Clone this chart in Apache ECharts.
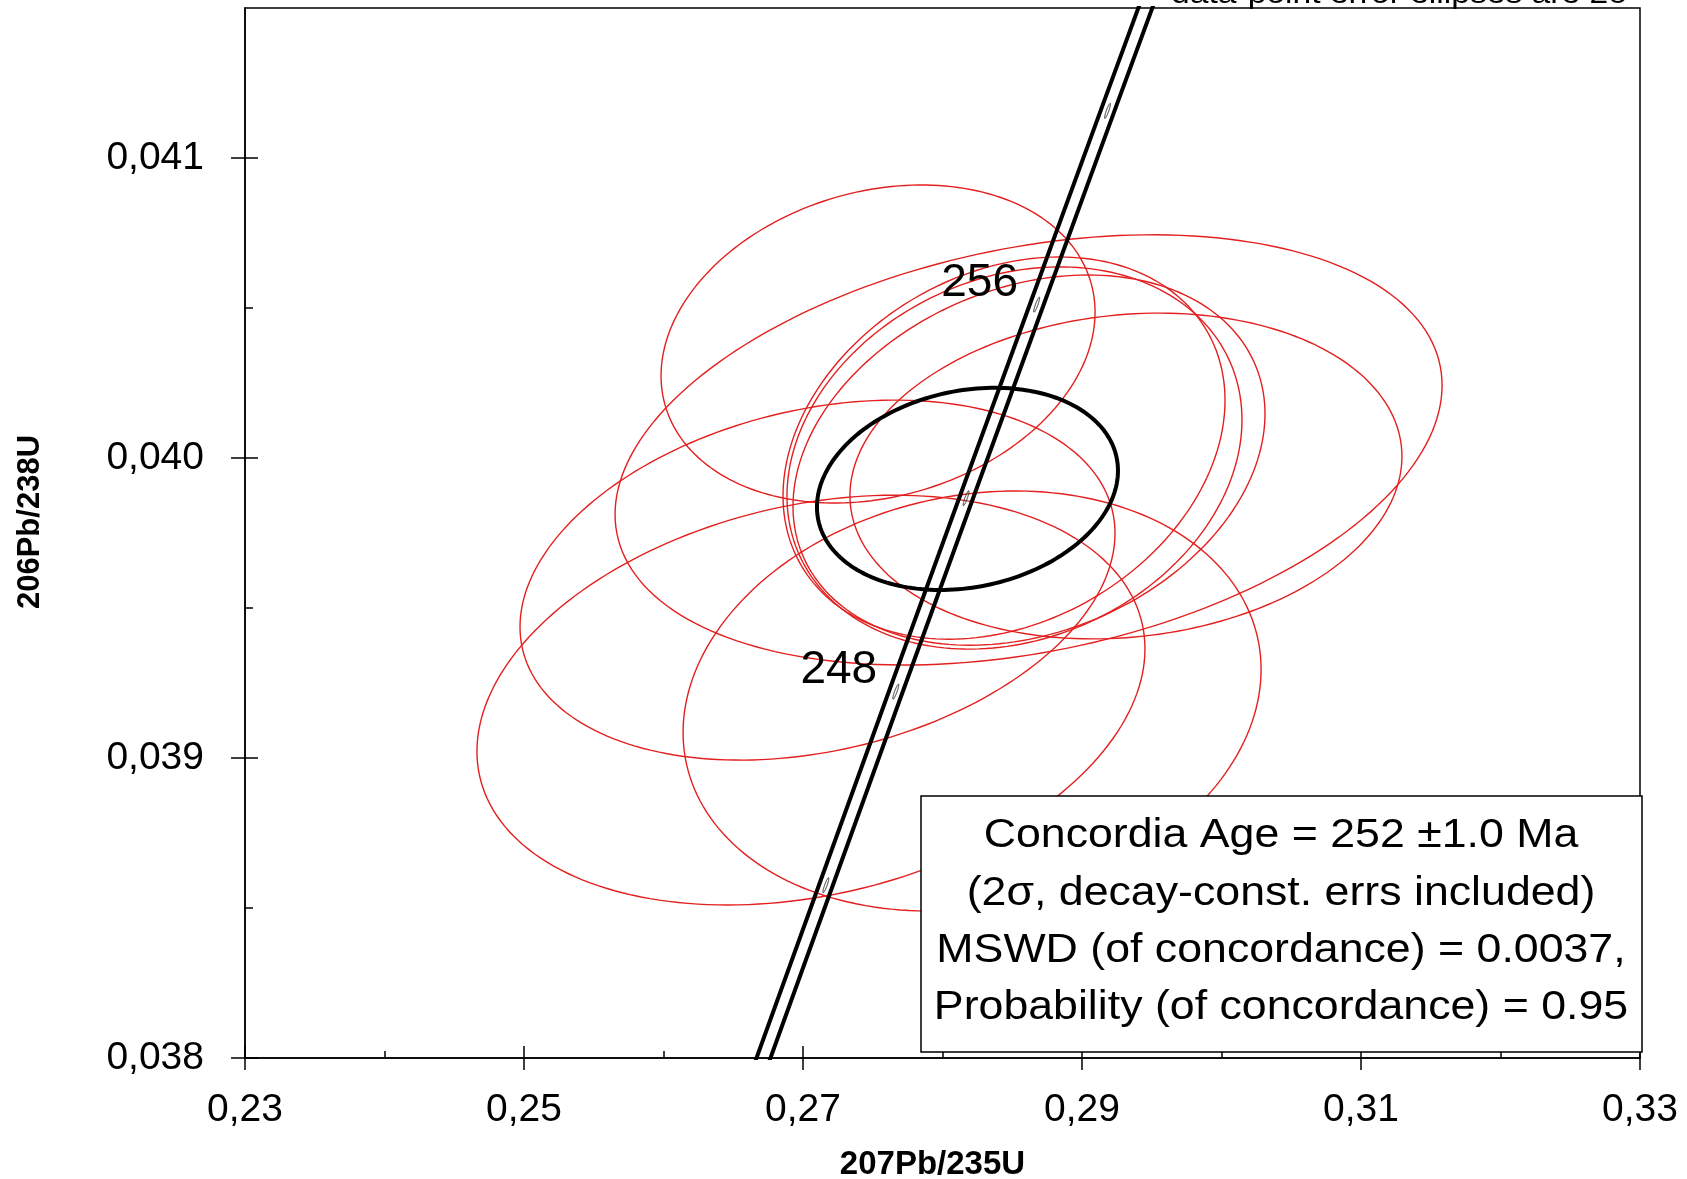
<!DOCTYPE html>
<html><head><meta charset="utf-8">
<script src="https://cdn.jsdelivr.net/npm/echarts@6/dist/echarts.min.js"></script>
<style>html,body{margin:0;padding:0;background:#fff}#c{width:1687px;height:1179px}</style>
</head><body><div id="c"></div>
<script>
// ---- axis ticks ----
const xTicks = [0.23, 0.25, 0.27, 0.29, 0.31, 0.33];
const xMinorTicks = [0.24, 0.26, 0.28, 0.30, 0.32];
const yTicks = [0.038, 0.039, 0.040, 0.041];
const yMinorTicks = [0.0385, 0.0395, 0.0405];

// ---- data-point error ellipses (2 sigma): centre, half-extent x, half-extent y, error correlation ----
const ellipseCx  = [0.27538, 0.28617, 0.27104, 0.27057, 0.28212, 0.29315, 0.28441, 0.28516, 0.28620];
const ellipseCy  = [0.04038, 0.040027, 0.039593, 0.039193, 0.039190, 0.03994, 0.040033, 0.04000, 0.039993];
const ellipseSx  = [0.015556, 0.029642, 0.021326, 0.023943, 0.020717, 0.019785, 0.015842, 0.016308, 0.016918];
const ellipseSy  = [0.00053, 0.000717, 0.0006, 0.000683, 0.000700, 0.000543, 0.000637, 0.000637, 0.000617];
const ellipseRho = [0.2, 0.3, 0.26, 0.25, 0.15, 0.12, 0.25, 0.2, 0.25];

// ---- concordia age ellipse ----
const concAgeCx = [0.28179];
const concAgeCy = [0.039897];
const concAgeSx = [0.010789];
const concAgeSy = [0.000337];
const concAgeRho = [0.18];

// ---- concordia curve (Ma) and its decay-constant error band ----
const concordiaAge    = [240, 244, 248, 252, 256, 260, 264];
const concordiaY      = [0.037932, 0.038576, 0.039221, 0.039866, 0.040511, 0.041157, 0.041803];
const concordiaMidX   = [0.26664, 0.27164, 0.27665, 0.28169, 0.28675, 0.29183, 0.29693];
const concordiaLeftX  = [0.26614, 0.27114, 0.27615, 0.28119, 0.28625, 0.29133, 0.29643];
const concordiaRightX = [0.26714, 0.27214, 0.27715, 0.28219, 0.28725, 0.29233, 0.29743];
const ageMarkers = [244, 248, 252, 256, 260];
const ageLabels  = [248, 256];

const boxLines = [
  'Concordia Age = 252 \u00b11.0 Ma',
  '(2\u03c3, decay-const. errs included)',
  'MSWD (of concordance) = 0.0037,',
  'Probability (of concordance) = 0.95'
];
const cornerNote = 'data-point error ellipses are 2\u03c3';

const FONT = "Arial, 'Liberation Sans', sans-serif";

function ellipseRender(color, width) {
  return function (params, api) {
    const cx = api.value(0), cy = api.value(1), sx = api.value(2), sy = api.value(3), r = api.value(4);
    const s = Math.sqrt(1 - r * r);
    const pts = [];
    const N = 200;
    for (let i = 0; i < N; i++) {
      const t = i / N * 2 * Math.PI;
      pts.push(api.coord([cx + sx * Math.cos(t), cy + sy * (r * Math.cos(t) + s * Math.sin(t))]));
    }
    return { type: 'polygon', shape: { points: pts }, style: { fill: 'none', stroke: color, lineWidth: width } };
  };
}

const redData = ellipseCx.map((v, i) => [v, ellipseCy[i], ellipseSx[i], ellipseSy[i], ellipseRho[i]]);
const blackData = concAgeCx.map((v, i) => [v, concAgeCy[i], concAgeSx[i], concAgeSy[i], concAgeRho[i]]);
const leftLine = concordiaLeftX.map((v, i) => [v, concordiaY[i]]);
const rightLine = concordiaRightX.map((v, i) => [v, concordiaY[i]]);
const markerData = ageMarkers.map(a => {
  const i = concordiaAge.indexOf(a);
  return [concordiaMidX[i], concordiaY[i], 0.00021, 0.000025, 0.9];
});
const labelData = ageLabels.map(a => {
  const i = concordiaAge.indexOf(a);
  return { name: String(a), value: [concordiaMidX[i], concordiaY[i]] };
});

const lineStyleBlack = { color: '#000', width: 1.5 };
const tickOnly = (extra) => Object.assign({
  axisLine: { show: false, onZero: false }, axisLabel: { show: false }, splitLine: { show: false }
}, extra);

const chart = echarts.init(document.getElementById('c'), null, { renderer: 'canvas' });
const option = {
  animation: false,
  backgroundColor: '#fff',
  grid: { left: 245, right: 47, top: 8, bottom: 121, show: true, borderColor: '#000', borderWidth: 1.5, backgroundColor: 'transparent', containLabel: false, outerBoundsMode: 'none' },
  xAxis: [
    {
      type: 'value', min: 0.23, max: 0.33, position: 'bottom',
      axisLine: { show: true, onZero: false, lineStyle: lineStyleBlack },
      axisTick: { show: true, inside: false, length: 12, customValues: xTicks, lineStyle: lineStyleBlack },
      axisLabel: { customValues: xTicks, margin: 33, fontSize: 39, color: '#000', fontFamily: FONT,
        formatter: v => v.toFixed(2).replace('.', ',') },
      splitLine: { show: false },
      name: '207Pb/235U', nameLocation: 'middle', nameGap: 90,
      nameTextStyle: { fontSize: 33, fontWeight: 'bold', color: '#000', fontFamily: FONT, padding: [0, 20, 0, 0] }
    },
    tickOnly({ type: 'value', min: 0.23, max: 0.33, position: 'bottom',
      axisTick: { show: true, inside: true, length: 12, customValues: xTicks, lineStyle: lineStyleBlack } }),
    tickOnly({ type: 'value', min: 0.23, max: 0.33, position: 'bottom',
      axisTick: { show: true, inside: true, length: 7, customValues: xMinorTicks, lineStyle: lineStyleBlack } })
  ],
  yAxis: [
    {
      type: 'value', min: 0.038, max: 0.0415, position: 'left',
      axisLine: { show: true, onZero: false, lineStyle: lineStyleBlack },
      axisTick: { show: true, inside: false, length: 14, customValues: yTicks, lineStyle: lineStyleBlack },
      axisLabel: { customValues: yTicks, margin: 41, fontSize: 39, color: '#000', fontFamily: FONT,
        formatter: v => v.toFixed(3).replace('.', ',') },
      splitLine: { show: false },
      name: '206Pb/238U', nameLocation: 'middle', nameGap: 199,
      nameTextStyle: { fontSize: 31, fontWeight: 'bold', color: '#000', fontFamily: FONT, padding: [0, 0, 0, 22] }
    },
    tickOnly({ type: 'value', min: 0.038, max: 0.0415, position: 'left',
      axisTick: { show: true, inside: true, length: 13, customValues: yTicks, lineStyle: lineStyleBlack } }),
    tickOnly({ type: 'value', min: 0.038, max: 0.0415, position: 'left',
      axisTick: { show: true, inside: true, length: 8, customValues: yMinorTicks, lineStyle: lineStyleBlack } })
  ],
  series: [
    { type: 'custom', name: 'ellipses', xAxisIndex: 0, yAxisIndex: 0, data: redData, encode: { x: 0, y: 1 },
      renderItem: ellipseRender('#e3201f', 1.4), clip: true, z: 2, silent: true },
    { type: 'line', xAxisIndex: 0, yAxisIndex: 0, data: leftLine, symbol: 'none', showSymbol: false,
      lineStyle: { color: '#000', width: 4 }, clip: true, z: 3, silent: true },
    { type: 'line', xAxisIndex: 0, yAxisIndex: 0, data: rightLine, symbol: 'none', showSymbol: false,
      lineStyle: { color: '#000', width: 4 }, clip: true, z: 3, silent: true },
    { type: 'custom', xAxisIndex: 0, yAxisIndex: 0, data: markerData, encode: { x: 0, y: 1 },
      renderItem: ellipseRender('#222', 1), clip: true, z: 4, silent: true },
    { type: 'custom', xAxisIndex: 0, yAxisIndex: 0, data: blackData, encode: { x: 0, y: 1 },
      renderItem: ellipseRender('#000', 4), clip: true, z: 5, silent: true },
    { type: 'scatter', xAxisIndex: 0, yAxisIndex: 0, data: labelData, symbolSize: 0, z: 6, silent: true,
      itemStyle: { opacity: 1 },
      label: { show: true, position: 'inside', offset: [-57, -21], formatter: p => p.name,
        fontSize: 46, color: '#000', opacity: 1, fontFamily: FONT, align: 'center', verticalAlign: 'middle' } }
  ],
  graphic: [
    { type: 'rect', z: 100, shape: { x: 921, y: 796, width: 721, height: 256 },
      style: { fill: '#fff', stroke: '#000', lineWidth: 1.5 } },
    ...boxLines.map((t, i) => ({
      type: 'text', z: 101, x: 1281, y: [836, 894, 951, 1008][i], scaleX: 1.09,
      style: { text: t, fontSize: 41, fontFamily: FONT, fill: '#000', align: 'center', verticalAlign: 'middle',
        textAlign: 'center', textVerticalAlign: 'middle' }
    })),
    { type: 'text', z: 101, x: 1400, y: 10, scaleX: 1.12,
      style: { text: cornerNote, fontSize: 30, fontFamily: FONT, fill: '#000', align: 'center', verticalAlign: 'bottom',
        textAlign: 'center', textVerticalAlign: 'bottom' } }
  ]
};
chart.setOption(option);
</script>
</body></html>
